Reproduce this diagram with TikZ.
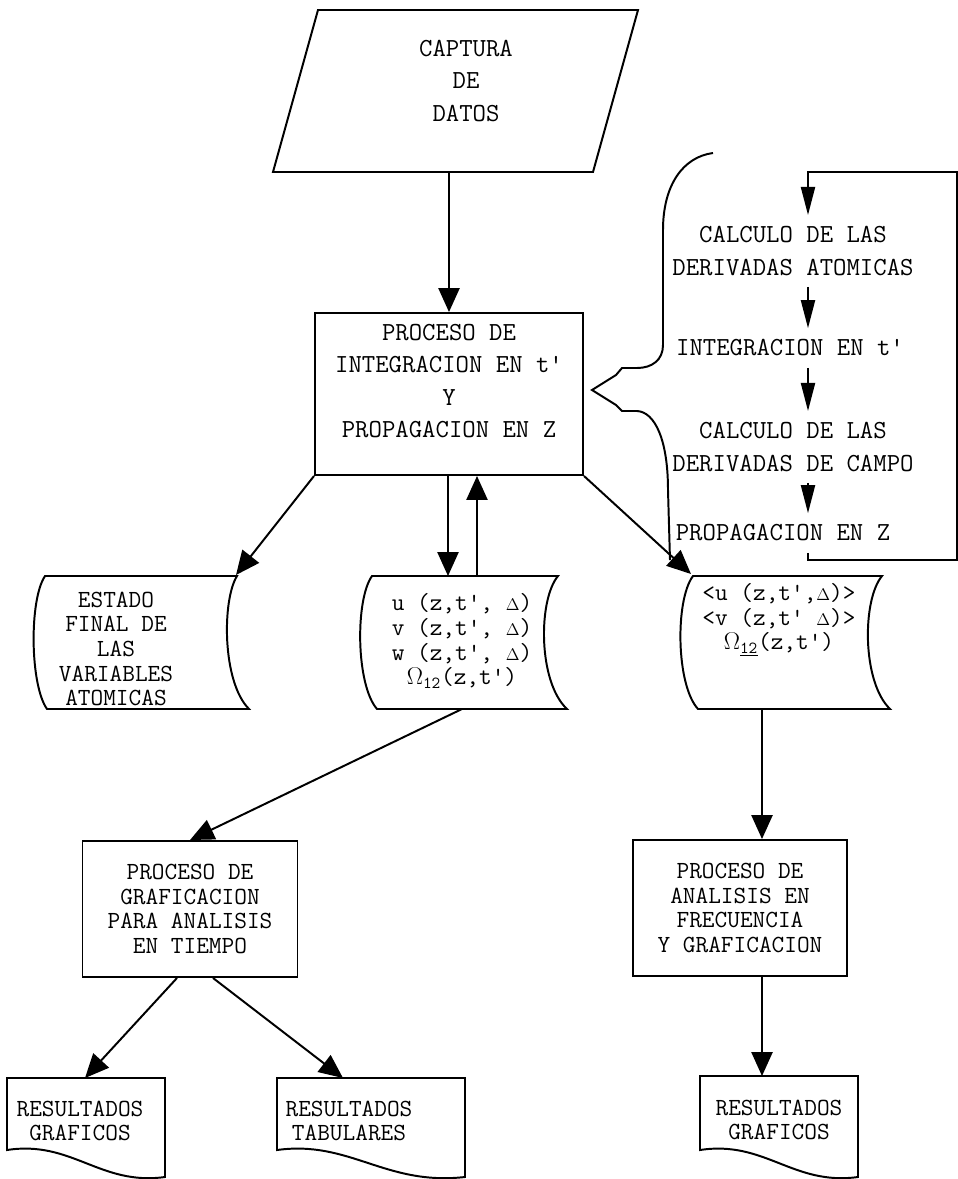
\documentclass[tikz,border=0pt]{standalone}
\usepackage{tikz}
\usetikzlibrary{positioning, arrows.meta, calc}

\newcommand{\dlt}{{\fontsize{12}{12}\selectfont$\Delta$}}

\tikzset{
	flow/.style={line width=1.4pt},
	arr/.style={flow, -{Triangle[length=17pt, width=15pt]}},
	slim arr/.style={flow, -{Triangle[length=20pt, width=10pt]}},
	txt/.style={font=\ttfamily\fontsize{17.5}{17.5}\selectfont, align=center, inner sep=0pt},
	wide txt/.style={txt, font=\ttfamily\fontsize{18.5}{23}\selectfont},
	proc/.style={draw, flow, rectangle, inner sep=0pt},
}

\begin{document}
\begin{tikzpicture}[x=0.025cm, y=-0.025cm]
	\useasboundingbox (0,0) rectangle (958,1179);
	\def\px{0.025cm}

	% entrada
	\draw [flow] (318,10) -- (638,10) -- (593,172) -- (273,172) -- cycle;
	\node [wide txt] (capt) at (466,81) {CAPTURA\\DE\\DATOS};
	\coordinate (capt b) at (449,172);

	% proceso principal
	\node [proc, minimum width=268*\px, minimum height=162*\px] (main) at (449,394) {};
	\node [wide txt] (main txt) at (449,381) {PROCESO DE\\INTEGRACION EN t'\\Y\\PROPAGACION EN Z};
	\draw [arr] (capt b) -- (main.north);

	% detalle del proceso
	\draw [flow] (713,153) .. controls (683,157) and (663,185) .. (663,230)
		-- (663,345) .. controls (663,360) and (652,368) .. (637,368)
		-- (622,368) -- (616,375) -- (592,390) -- (616,405) -- (622,411)
		-- (637,411) .. controls (655,412) and (668,440) .. (668,490)
		-- (670,560);

	\node [wide txt, inner ysep=8pt] (calc at) at (793,251) {CALCULO DE LAS\\DERIVADAS ATOMICAS};
	\node [wide txt, inner ysep=8pt] (integ) at (790,348) {INTEGRACION EN t'};
	\node [wide txt, inner ysep=8pt] (calc ca) at (793,447) {CALCULO DE LAS\\DERIVADAS DE CAMPO};
	\node [wide txt, inner ysep=8pt] (prop) at (783,533) {PROPAGACION EN Z};

	\coordinate (rail) at (808,172);
	\coordinate (loop a) at (957,560);
	\coordinate (loop b) at (957,172);
	\draw [slim arr] (calc at.south -| rail) -- (integ.north -| rail);
	\draw [slim arr] (integ.south -| rail) -- (calc ca.north -| rail);
	\draw [slim arr] (calc ca.south -| rail) -- (prop.north -| rail);
	\draw [slim arr] (prop.south -| rail) |- (loop a) -- (loop b) -- (rail) -- (calc at.north -| rail);

	% datos
	\draw [flow] (45,576) -- (237,576) .. controls (222,600) and (222,682) .. (249,709)
		-- (47,709) .. controls (30,685) and (29,600) .. cycle;
	\node [txt] (est) at (116,649) {ESTADO\\FINAL DE\\LAS\\VARIABLES\\ATOMICAS};
	\coordinate (est ne) at (236,575);
	\draw [arr] (main.south west) -- (est ne);

	\draw [flow] (372,576) -- (558,576) .. controls (538,600) and (538,682) .. (567,709)
		-- (377,709) .. controls (356,685) and (355,600) .. cycle;
	\node [txt] (uvw) at (462,641) {u (z,t', \dlt)\\v (z,t', \dlt)\\w (z,t', \dlt)\\$\Omega_{\mathtt{12}}$(z,t')};
	\coordinate (uvw in) at (448,576);
	\coordinate (uvw out) at (477,576);
	\coordinate (uvw s) at (462,709);
	\draw [arr] (main.south -| uvw in) -- (uvw in);
	\draw [arr] (uvw out) -- (uvw out |- main.south);

	\draw [flow] (693,576) -- (882,576) .. controls (862,600) and (862,682) .. (890,709)
		-- (698,709) .. controls (676,685) and (675,600) .. cycle;
	\node [txt] (avg) at (779,620) {<u (z,t',\dlt)>\\<v (z,t' \dlt)>\\$\Omega_{\underline{\mathtt{12}}}$(z,t')};
	\coordinate (avg nw) at (691,574);
	\coordinate (avg s) at (762,709);
	\draw [arr] (main.south east) -- (avg nw);

	% graficacion y analisis
	\node [proc, txt, minimum width=215*\px, minimum height=136*\px] (graf) at (190,909) {PROCESO DE\\GRAFICACION\\PARA ANALISIS\\EN TIEMPO};
	\node [proc, txt, minimum width=214*\px, minimum height=136*\px] (anal) at (740,908) {PROCESO DE\\ANALISIS EN\\FRECUENCIA\\Y GRAFICACION};
	\draw [arr] (uvw s) -- (graf.north);
	\draw [arr] (avg s) -- (avg s |- anal.north);

	% resultados
	\draw [flow] (7,1078) -- (165,1078) -- (165,1177) .. controls (100,1186) and (72,1140) .. (7,1150) -- cycle;
	\node [txt] (res gl) at (80,1121) {RESULTADOS\\GRAFICOS};
	\coordinate (res gl n) at (85,1078);

	\draw [flow] (277,1078) -- (465,1078) -- (465,1177) .. controls (385,1186) and (350,1140) .. (277,1150) -- cycle;
	\node [txt] (res tb) at (349,1121) {RESULTADOS\\TABULARES};
	\coordinate (res tb n) at (343,1078);

	\draw [flow] (700,1076) -- (858,1076) -- (858,1177) .. controls (793,1186) and (765,1140) .. (700,1150) -- cycle;
	\node [txt] (res gr) at (779,1120) {RESULTADOS\\GRAFICOS};
	\coordinate (res gr n) at (762,1076);

	\draw [arr] ($(graf.south)+(-13,0)$) -- (res gl n);
	\draw [arr] ($(graf.south)+(23,0)$) -- (res tb n);
	\draw [arr] (anal.south -| avg s) -- (res gr n);
\end{tikzpicture}
\end{document}
